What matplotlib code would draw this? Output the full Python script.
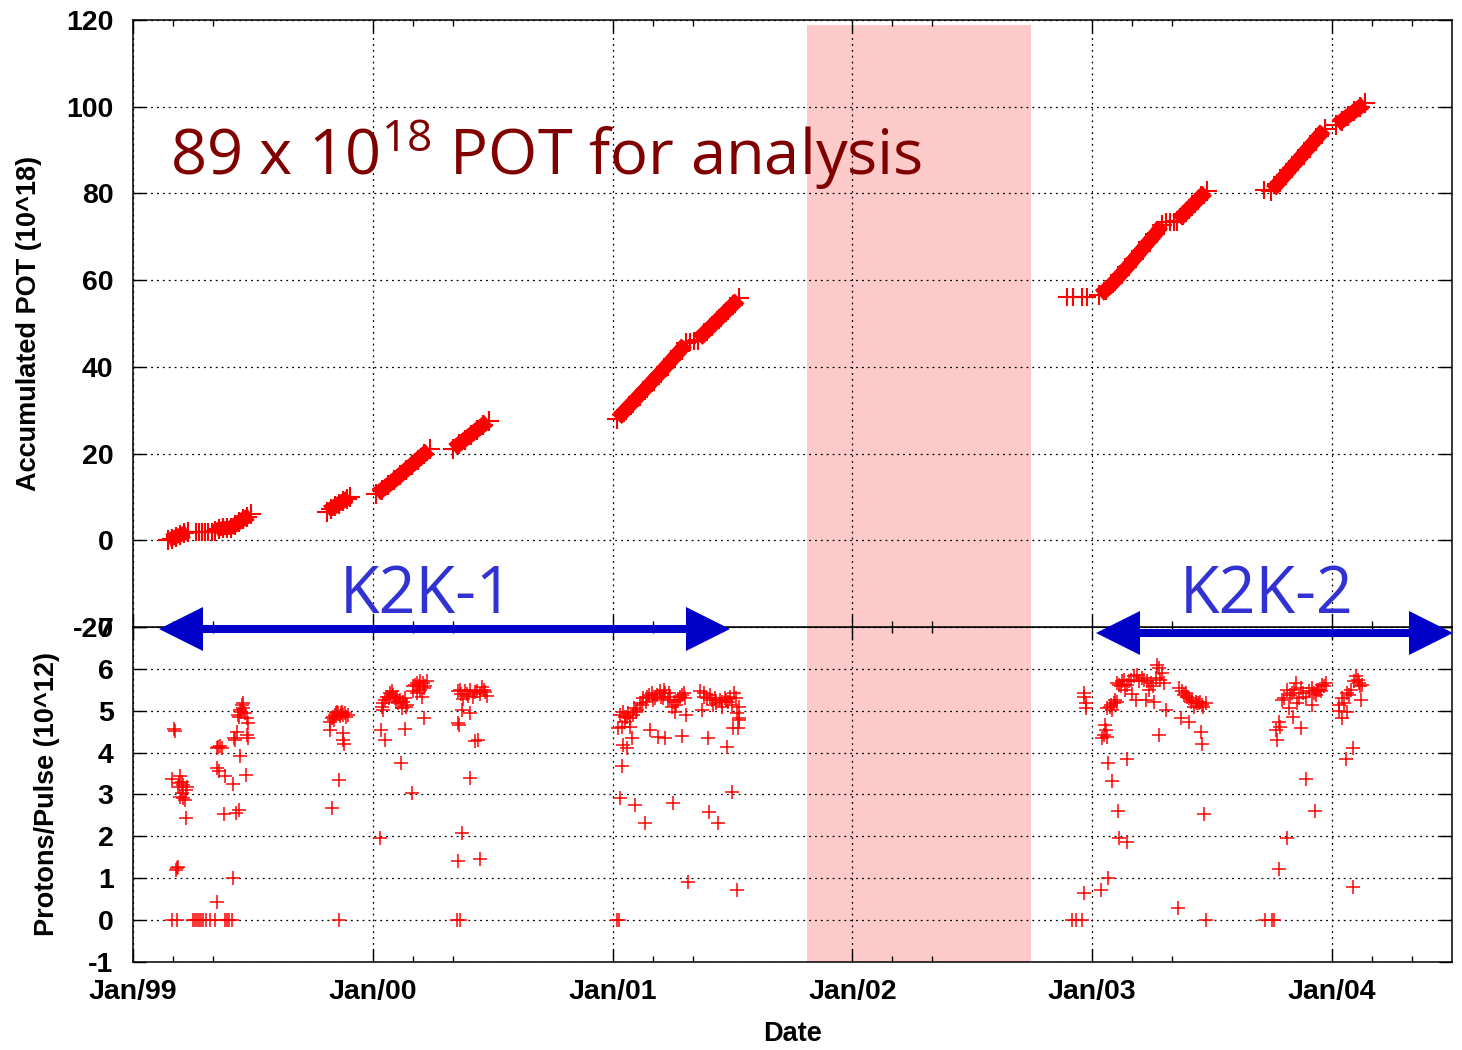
import numpy as np
import matplotlib.pyplot as plt
from matplotlib.ticker import FixedLocator

plt.rcParams['font.family'] = ['Liberation Sans', 'DejaVu Sans']
plt.rcParams['font.weight'] = 'bold'
plt.rcParams['axes.labelweight'] = 'bold'
plt.rcParams['axes.unicode_minus'] = False
plt.rcParams['mathtext.fontset'] = 'custom'
plt.rcParams['mathtext.rm'] = 'Open Sans'
plt.rcParams['mathtext.default'] = 'regular'

# accumulated protons on target (10^18) vs date in decimal years, one array per running period
pot_1999_spring = [[1999.146, 0.0], [1999.163, 0.4], [1999.179, 0.8], [1999.196, 1.2], [1999.213, 1.6], [1999.229, 2.0]]
pot_1999_summer = [[1999.342, 2.1], [1999.358, 2.6], [1999.375, 2.8], [1999.392, 2.8], [1999.408, 2.9],
                   [1999.425, 3.5], [1999.442, 4.2], [1999.458, 4.8], [1999.475, 5.4], [1999.492, 6.0]]
pot_1999_autumn = [[1999.808, 6.6], [1999.825, 7.2], [1999.842, 7.8], [1999.858, 8.4], [1999.875, 9.0],
                   [1999.892, 9.6], [1999.904, 10.0]]
pot_2000_spring = [[2000.013, 10.6], [2000.038, 11.6], [2000.063, 12.7], [2000.088, 13.8], [2000.113, 15.0],
                   [2000.138, 16.2], [2000.163, 17.4], [2000.188, 18.6], [2000.213, 19.8], [2000.238, 21.0]]
pot_2000_summer = [[2000.333, 21.0], [2000.358, 22.1], [2000.383, 23.2], [2000.408, 24.3], [2000.433, 25.4],
                   [2000.458, 26.5], [2000.483, 27.6]]
pot_2001_spring = [[2001.017, 27.9], [2001.046, 29.6], [2001.075, 31.3], [2001.104, 33.0], [2001.133, 34.7],
                   [2001.163, 36.5], [2001.192, 38.2], [2001.221, 40.0], [2001.250, 41.8], [2001.279, 43.6],
                   [2001.308, 45.5]]
pot_2001_summer = [[2001.354, 46.2], [2001.383, 47.8], [2001.413, 49.4], [2001.442, 51.0], [2001.471, 52.6],
                   [2001.500, 54.2], [2001.529, 55.8]]
pot_2003_spring = [[2003.029, 56.5], [2003.058, 57.8], [2003.088, 59.4], [2003.117, 61.2], [2003.146, 63.0],
                   [2003.175, 64.9], [2003.204, 66.8], [2003.233, 68.7], [2003.263, 70.6], [2003.292, 72.8]]
pot_2003_summer = [[2003.354, 73.7], [2003.379, 75.1], [2003.404, 76.5], [2003.429, 77.9], [2003.454, 79.3],
                   [2003.479, 80.6]]
pot_2003_autumn = [[2003.746, 80.6], [2003.771, 82.1], [2003.796, 83.7], [2003.821, 85.3], [2003.846, 86.9],
                   [2003.871, 88.5], [2003.896, 90.1], [2003.921, 91.7], [2003.946, 93.3], [2003.971, 94.9]]
pot_2004_winter = [[2004.017, 95.8], [2004.042, 96.8], [2004.067, 97.9], [2004.092, 98.9], [2004.117, 100.0],
                   [2004.138, 100.8]]
# days with (almost) no beam, total stays flat
pot_idle = [[1999.262, 2.0], [1999.275, 2.0], [1999.288, 2.0], [1999.300, 2.0], [1999.313, 2.0], [1999.329, 2.0],
            [2001.321, 45.8], [2001.338, 45.9], [2002.896, 56.0], [2002.921, 56.0], [2002.958, 56.0],
            [2002.979, 56.1], [2003.308, 73.4], [2003.325, 73.5], [2003.342, 73.5], [2003.717, 80.8]]

pot_runs = [pot_1999_spring, pot_1999_summer, pot_1999_autumn, pot_2000_spring, pot_2000_summer,
            pot_2001_spring, pot_2001_summer, pot_2003_spring, pot_2003_summer, pot_2003_autumn,
            pot_2004_winter]

# protons per pulse (10^12)
pulse_1999 = [
    [1999.171, 4.56], [1999.175, 4.52],
    [1999.163, 3.36], [1999.196, 3.43], [1999.204, 3.31], [1999.208, 3.23], [1999.188, 3.19], [1999.225, 3.17],
    [1999.204, 3.03], [1999.208, 2.91], [1999.217, 2.87], [1999.196, 2.95], [1999.221, 3.10], [1999.192, 3.28],
    [1999.221, 2.45], [1999.183, 1.24], [1999.179, 1.20], [1999.188, 1.27],
    [1999.163, 0.0], [1999.183, 0.0], [1999.250, 0.0], [1999.258, 0.0], [1999.267, 0.0], [1999.275, 0.0],
    [1999.283, 0.0], [1999.292, 0.0], [1999.304, 0.0], [1999.321, 0.0], [1999.342, 0.0], [1999.383, 0.0],
    [1999.392, 0.0], [1999.400, 0.0], [1999.413, 0.0],
    [1999.350, 0.44], [1999.417, 1.01],
    [1999.354, 4.13], [1999.350, 4.10], [1999.363, 4.15], [1999.371, 4.12],
    [1999.350, 3.63], [1999.358, 3.57], [1999.383, 3.43], [1999.417, 3.25],
    [1999.379, 2.53], [1999.429, 2.57], [1999.442, 2.63],
    [1999.425, 4.30], [1999.433, 4.50], [1999.421, 4.34], [1999.446, 3.92], [1999.471, 3.47], [1999.475, 4.42],
    [1999.479, 4.34],
    [1999.438, 4.90], [1999.446, 5.02], [1999.454, 5.14], [1999.458, 5.06], [1999.467, 4.94], [1999.475, 4.82],
    [1999.479, 4.70], [1999.442, 4.86], [1999.458, 5.18], [1999.450, 4.96],
    [1999.821, 4.74], [1999.829, 4.82], [1999.842, 4.90], [1999.854, 4.94], [1999.871, 4.98], [1999.883, 4.94],
    [1999.896, 4.90], [1999.833, 4.86], [1999.850, 4.98], [1999.863, 4.88], [1999.875, 4.90],
    [1999.838, 4.78], [1999.846, 4.94], [1999.867, 4.94], [1999.888, 4.86],
    [1999.821, 4.54], [1999.875, 4.46], [1999.875, 4.29], [1999.879, 4.21], [1999.858, 3.35], [1999.829, 2.67],
    [1999.858, 0.0],
]
pulse_2000 = [
    [2000.029, 1.95], [2000.033, 4.54], [2000.050, 4.30], [2000.117, 3.76], [2000.163, 3.03], [2000.133, 4.56],
    [2000.213, 4.82],
    [2000.038, 5.10], [2000.042, 5.18], [2000.058, 5.34], [2000.071, 5.42], [2000.083, 5.38], [2000.100, 5.34],
    [2000.113, 5.26], [2000.125, 5.22], [2000.142, 5.14], [2000.104, 5.18], [2000.133, 5.30], [2000.042, 5.02],
    [2000.121, 5.06], [2000.092, 5.30], [2000.050, 5.26], [2000.067, 5.30], [2000.079, 5.46], [2000.096, 5.22],
    [2000.138, 5.10],
    [2000.167, 5.58], [2000.183, 5.66], [2000.196, 5.70], [2000.208, 5.66], [2000.225, 5.70], [2000.183, 5.42],
    [2000.196, 5.50], [2000.204, 5.34], [2000.167, 5.46], [2000.217, 5.60], [2000.175, 5.62], [2000.192, 5.58],
    [2000.213, 5.54],
    [2000.354, 5.48], [2000.363, 5.50], [2000.375, 5.29], [2000.383, 5.46], [2000.392, 5.40], [2000.404, 5.50],
    [2000.417, 5.33], [2000.433, 5.48], [2000.446, 5.40], [2000.454, 5.56], [2000.467, 5.44], [2000.475, 5.36],
    [2000.367, 5.40], [2000.396, 5.36], [2000.425, 5.44], [2000.463, 5.50],
    [2000.371, 5.02], [2000.354, 4.70], [2000.358, 4.65], [2000.404, 4.94], [2000.425, 4.27], [2000.438, 4.30],
    [2000.404, 3.39], [2000.371, 2.07], [2000.354, 1.42], [2000.446, 1.47], [2000.350, 0.0], [2000.363, 0.0],
]
pulse_2001 = [
    [2001.029, 4.90], [2001.042, 4.98], [2001.058, 4.86], [2001.071, 4.82], [2001.083, 4.90], [2001.050, 4.74],
    [2001.038, 4.62], [2001.071, 4.62], [2001.021, 4.58],
    [2001.079, 4.34], [2001.058, 4.10], [2001.042, 4.18], [2001.038, 3.67], [2001.029, 2.91], [2001.092, 2.75],
    [2001.133, 2.31], [2001.313, 0.92], [2001.517, 0.73], [2001.017, 0.0], [2001.025, 0.0],
    [2001.250, 2.79], [2001.400, 2.59], [2001.438, 2.31], [2001.496, 3.07],
    [2001.154, 4.54], [2001.188, 4.37], [2001.217, 4.34], [2001.288, 4.40], [2001.396, 4.34], [2001.475, 4.14],
    [2001.500, 4.58], [2001.521, 4.58], [2001.529, 4.82], [2001.371, 5.02], [2001.308, 4.90],
    [2001.100, 5.02], [2001.113, 5.18], [2001.125, 5.30], [2001.142, 5.34], [2001.163, 5.42], [2001.183, 5.38],
    [2001.196, 5.46], [2001.217, 5.42], [2001.229, 5.26], [2001.246, 5.10], [2001.258, 4.98], [2001.271, 5.26],
    [2001.288, 5.38], [2001.300, 5.30], [2001.238, 5.34], [2001.167, 5.26], [2001.208, 5.30],
    [2001.050, 4.86], [2001.063, 4.94], [2001.088, 5.06], [2001.096, 4.98], [2001.121, 5.14], [2001.138, 5.22],
    [2001.150, 5.38], [2001.175, 5.30], [2001.200, 5.34], [2001.213, 5.50], [2001.233, 5.42], [2001.254, 5.22],
    [2001.263, 5.14], [2001.279, 5.34], [2001.296, 5.42],
    [2001.363, 5.46], [2001.383, 5.42], [2001.404, 5.38], [2001.425, 5.30], [2001.446, 5.26], [2001.467, 5.30],
    [2001.488, 5.34], [2001.508, 5.42], [2001.417, 5.14], [2001.454, 5.10], [2001.496, 5.14], [2001.517, 4.94],
    [2001.529, 4.78], [2001.379, 5.34], [2001.392, 5.30], [2001.413, 5.26], [2001.433, 5.18], [2001.458, 5.22],
    [2001.471, 5.26], [2001.483, 5.22], [2001.513, 5.30], [2001.525, 5.10],
]
pulse_2003 = [
    [2002.967, 5.42], [2002.975, 5.18], [2002.975, 5.06], [2002.967, 5.34], [2002.967, 0.64], [2002.917, 0.0],
    [2002.933, 0.0], [2002.958, 0.0],
    [2003.038, 0.72], [2003.067, 1.00], [2003.113, 1.95], [2003.146, 1.87], [2003.108, 2.61], [2003.083, 3.33],
    [2003.067, 3.75], [2003.146, 3.84],
    [2003.042, 4.34], [2003.050, 4.42], [2003.058, 4.54], [2003.054, 4.66], [2003.063, 4.38],
    [2003.063, 5.06], [2003.079, 5.14], [2003.092, 5.18], [2003.104, 5.22], [2003.083, 5.02],
    [2003.075, 5.10], [2003.096, 5.26],
    [2003.104, 5.66], [2003.121, 5.58], [2003.133, 5.74], [2003.154, 5.70], [2003.175, 5.82], [2003.188, 5.86],
    [2003.208, 5.78], [2003.229, 5.70], [2003.246, 5.66], [2003.267, 5.78], [2003.279, 6.02], [2003.271, 6.10],
    [2003.292, 5.90], [2003.300, 5.66], [2003.138, 5.50], [2003.238, 5.50], [2003.183, 5.26], [2003.225, 5.26],
    [2003.258, 5.22], [2003.308, 5.02], [2003.279, 4.42], [2003.167, 5.40],
    [2003.113, 5.62], [2003.125, 5.70], [2003.146, 5.62], [2003.163, 5.74], [2003.196, 5.70], [2003.217, 5.74],
    [2003.254, 5.58], [2003.283, 5.74],
    [2003.363, 5.54], [2003.375, 5.46], [2003.392, 5.42], [2003.404, 5.30], [2003.417, 5.26], [2003.433, 5.22],
    [2003.446, 5.18], [2003.458, 5.14], [2003.475, 5.18], [2003.425, 5.10], [2003.371, 4.82], [2003.404, 4.74],
    [2003.383, 5.38], [2003.396, 5.34], [2003.413, 5.22], [2003.438, 5.18], [2003.450, 5.22], [2003.463, 5.10],
    [2003.454, 4.50], [2003.458, 4.21], [2003.467, 2.53], [2003.358, 0.28], [2003.475, 0.0],
    [2003.779, 4.74], [2003.767, 4.54], [2003.771, 4.30], [2003.792, 5.26], [2003.813, 5.50], [2003.833, 5.42],
    [2003.850, 5.66], [2003.871, 5.54], [2003.892, 5.34], [2003.904, 5.46], [2003.917, 5.54], [2003.933, 5.38],
    [2003.946, 5.50], [2003.958, 5.62], [2003.975, 5.66], [2003.854, 5.18], [2003.917, 5.14], [2003.821, 5.06],
    [2003.838, 4.86], [2003.871, 4.58],
    [2003.800, 5.30], [2003.825, 5.38], [2003.842, 5.50], [2003.863, 5.30], [2003.879, 5.42], [2003.925, 5.42],
    [2003.938, 5.50], [2003.954, 5.46], [2003.967, 5.58], [2003.783, 4.62],
    [2003.892, 3.37], [2003.929, 2.61], [2003.813, 1.95], [2003.779, 1.21], [2003.721, 0.0], [2003.750, 0.0],
    [2003.758, 0.0],
]
pulse_2004 = [
    [2004.029, 5.14], [2004.042, 5.30], [2004.063, 5.42], [2004.079, 5.50], [2004.092, 5.70], [2004.100, 5.82],
    [2004.113, 5.66], [2004.125, 5.62], [2004.121, 5.26], [2004.042, 4.82], [2004.063, 4.98], [2004.029, 5.00],
    [2004.071, 5.38], [2004.108, 5.74], [2004.117, 5.58], [2004.050, 5.18],
    [2004.088, 4.10], [2004.058, 3.84], [2004.088, 0.80],
]

years = [1999, 2000, 2001, 2002, 2003, 2004]
year_labels = ['Jan/99', 'Jan/00', 'Jan/01', 'Jan/02', 'Jan/03', 'Jan/04']
shutdown = (2001.8125, 2002.746)
k2k1_span = (1999.1125, 2001.4875)
k2k2_span = (2003.021, 2004.5)

RED = '#ff0000'
PINK = '#fdcaca'
ARROW = '#0000c8'
grid_style = dict(color='black', linestyle=(0, (1.5, 3.2)), linewidth=0.9)

fig = plt.figure(figsize=(14.62, 10.5), dpi=100)
ax_pot = fig.add_axes([0.09097, 0.40286, 0.90219, 0.57810])
ax_ppp = fig.add_axes([0.09097, 0.08381, 0.90219, 0.31905])
ax_pot.set_zorder(3)

for run in pot_runs:
    xy = np.array(run)
    ax_pot.plot(xy[:, 0], xy[:, 1], color=RED, lw=10, marker='+', ms=15, mew=1.5,
                solid_capstyle='butt', zorder=4)
idle = np.array(pot_idle)
ax_pot.plot(idle[:, 0], idle[:, 1], ls='none', color=RED, marker='+', ms=13, mew=1.5, zorder=4)

for block in (pulse_1999, pulse_2000, pulse_2001, pulse_2003, pulse_2004):
    xy = np.array(block)
    ax_ppp.plot(xy[:, 0], xy[:, 1], ls='none', color=RED, marker='+', ms=10.5, mew=1.1, zorder=4)

ax_pot.axvspan(*shutdown, ymin=0, ymax=0.992, color=PINK, lw=0, zorder=0)
ax_ppp.axvspan(*shutdown, color=PINK, lw=0, zorder=0)

minor = [y + m / 12 for y in years for m in (2, 4)]
for ax in (ax_pot, ax_ppp):
    ax.set_xlim(1999.0, 2004.5)
    ax.xaxis.set_major_locator(FixedLocator(years))
    ax.xaxis.set_minor_locator(FixedLocator(minor))
    ax.tick_params(which='both', direction='in', top=True, right=True, width=1.0, labelsize=20.5)
    ax.tick_params(which='major', length=9.5)
    ax.tick_params(which='minor', length=4.5)
    ax.tick_params(axis='y', pad=14)
    ax.tick_params(axis='x', pad=12)
    ax.grid(True, which='major', **grid_style)
    for s in ax.spines.values():
        s.set_linewidth(1.1)

ax_pot.set_ylim(-20, 120)
ax_pot.set_yticks(range(-20, 121, 20))
ax_pot.tick_params(axis='x', labelbottom=False)
ax_ppp.set_ylim(-1, 7)
ax_ppp.set_yticks(range(-1, 8))
ax_ppp.set_xticklabels(year_labels)

ax_pot.set_ylabel('Accumulated POT (10^18)', fontsize=19.5)
ax_pot.yaxis.set_label_coords(-0.069, 0.5)
ax_ppp.set_ylabel('Protons/Pulse (10^12)', fontsize=19.5)
ax_ppp.yaxis.set_label_coords(-0.055, 0.5)
ax_ppp.set_xlabel('Date', fontsize=19.5)
ax_ppp.xaxis.set_label_coords(0.5, -0.177)

ax_pot.text(1999.154, 84.2, r'89 x 10$^{18}$ POT for analysis', color='#800000', fontsize=45.5,
            family='Open Sans', fontweight='normal', va='baseline', zorder=5)

# double-headed run arrows: a thick shaft with a filled triangle at each end
HEAD = 31            # head size in points (~43 px)
HEAD_YR = 0.088      # half the head length, in years


def span_arrow(x0, x1, y):
    ax_pot.plot([x0 + HEAD_YR, x1 - HEAD_YR], [y, y], color=ARROW, lw=5.8, solid_capstyle='butt',
                clip_on=False, zorder=6)
    ax_pot.plot([x0 + HEAD_YR], [y], ls='none', marker='<', ms=HEAD, mew=0, color=ARROW,
                clip_on=False, zorder=6)
    ax_pot.plot([x1 - HEAD_YR], [y], ls='none', marker='>', ms=HEAD, mew=0, color=ARROW,
                clip_on=False, zorder=6)


span_arrow(*k2k1_span, -20.5)
span_arrow(*k2k2_span, -21.3)
ax_pot.text(1999.8625, -16.8, 'K2K-1', color='#3232d2', fontsize=46.5, family='Open Sans',
            fontweight='normal', va='baseline', zorder=5)
ax_pot.text(2003.363, -16.8, 'K2K-2', color='#3232d2', fontsize=46.5, family='Open Sans',
            fontweight='normal', va='baseline', zorder=5)

fig.savefig('out.png', dpi=100)
